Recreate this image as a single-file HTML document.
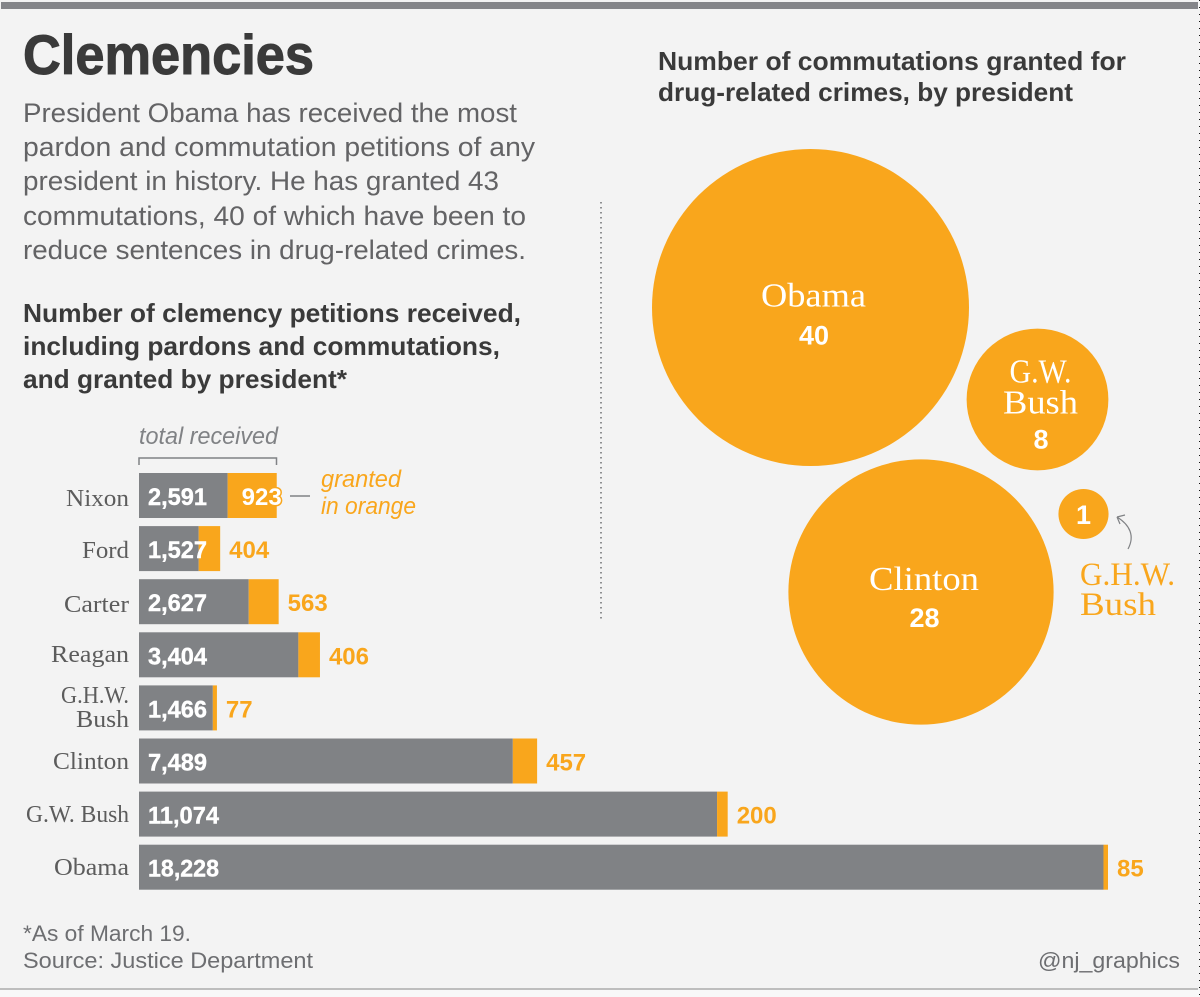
<!DOCTYPE html>
<html lang="en">
<head>
<meta charset="utf-8">
<title>Clemencies</title>
<style>
html,body{margin:0;padding:0;background:#f3f3f3;width:1200px;height:997px;overflow:hidden}
svg{display:block}
text{font-family:"Liberation Sans",sans-serif}
.body{font-size:27px;fill:#636365}
.sub{font-size:26px;font-weight:700;fill:#3a3a3a}
.cat{font-family:"Liberation Serif",serif;font-size:24px;fill:#5c5c5c}
.foot{font-size:22px;fill:#6d6e71}
.note{font-size:24px;font-style:italic}
.slab{font-family:"Liberation Serif",serif}
</style>
</head>
<body>
<svg id="chart" xmlns="http://www.w3.org/2000/svg" width="1200" height="997" viewBox="0 0 1200 997">
<rect x="0" y="0" width="1200" height="997" fill="#f3f3f3"/>
<rect x="0" y="990" width="1200" height="7" fill="#f8f8f8"/>
<rect x="1" y="2" width="1197" height="7" fill="#848589"/>
<rect x="0" y="988" width="1198" height="2" fill="#bdbdbd"/>
<line x1="1199.5" y1="0" x2="1199.5" y2="997" stroke="#111" stroke-width="1" stroke-dasharray="1 6"/>

<text x="23" y="74" font-size="56" font-weight="700" fill="#3a3a3a" stroke="#3a3a3a" stroke-width="1" textLength="291" lengthAdjust="spacingAndGlyphs">Clemencies</text>

<g class="body">
<text class="body" x="23" y="122" textLength="494" lengthAdjust="spacingAndGlyphs">President Obama has received the most</text>
<text class="body" x="23" y="156" textLength="512" lengthAdjust="spacingAndGlyphs">pardon and commutation petitions of any</text>
<text class="body" x="23" y="190" textLength="476" lengthAdjust="spacingAndGlyphs">president in history. He has granted 43</text>
<text class="body" x="23" y="225" textLength="503" lengthAdjust="spacingAndGlyphs">commutations, 40 of which have been to</text>
<text class="body" x="23" y="259" textLength="503" lengthAdjust="spacingAndGlyphs">reduce sentences in drug-related crimes.</text>
</g>

<g>
<text class="sub" x="23" y="322" textLength="498" lengthAdjust="spacingAndGlyphs">Number of clemency petitions received,</text>
<text class="sub" x="23" y="355" textLength="477" lengthAdjust="spacingAndGlyphs">including pardons and commutations,</text>
<text class="sub" x="23" y="388" textLength="324" lengthAdjust="spacingAndGlyphs">and granted by president*</text>
</g>

<g>
<text class="sub" x="658" y="70" textLength="468" lengthAdjust="spacingAndGlyphs">Number of commutations granted for</text>
<text class="sub" x="658" y="101" textLength="415" lengthAdjust="spacingAndGlyphs">drug-related crimes, by president</text>
</g>

<line x1="601" y1="202" x2="601" y2="622" stroke="#6d6e71" stroke-width="1.5" stroke-dasharray="1.5 3.5"/>

<text class="note" x="139" y="444" fill="#808285" textLength="139" lengthAdjust="spacingAndGlyphs">total received</text>
<path d="M139 465V458H276.500V465" fill="none" stroke="#808285" stroke-width="1.500"/>
<line x1="290" y1="496" x2="310" y2="496" stroke="#808285" stroke-width="1.500"/>
<text class="note" x="321" y="487" fill="#f9a61c" textLength="80" lengthAdjust="spacingAndGlyphs">granted</text>
<text class="note" x="321" y="514" fill="#f9a61c" textLength="95" lengthAdjust="spacingAndGlyphs">in orange</text>

<g id="bars"></g>
<g id="bubbles"></g>

<text class="slab" x="1080" y="585" font-size="33" fill="#f9a61c" textLength="95" lengthAdjust="spacingAndGlyphs">G.H.W.</text>
<text class="slab" x="1080" y="615" font-size="33" fill="#f9a61c" textLength="76" lengthAdjust="spacingAndGlyphs">Bush</text>
<path d="M1128 549C1135 536 1130 525 1117 517M1117 517L1125 515M1117 517L1120 524" fill="none" stroke="#808285" stroke-width="1.200"/>

<text class="foot" x="23" y="941" textLength="168" lengthAdjust="spacingAndGlyphs">*As of March 19.</text>
<text class="foot" x="23" y="968" textLength="290" lengthAdjust="spacingAndGlyphs">Source: Justice Department</text>
<text class="foot" x="1038" y="968" textLength="142" lengthAdjust="spacingAndGlyphs">@nj_graphics</text>
</svg>
<script>
const presidents = ['Nixon', 'Ford', 'Carter', 'Reagan', 'G.H.W. Bush', 'Clinton', 'G.W. Bush', 'Obama'];
const received = [2591, 1527, 2627, 3404, 1466, 7489, 11074, 18228];
const granted = [923, 404, 563, 406, 77, 457, 200, 85];

const bubbleNames = ['Obama', 'G.W. Bush', 'Clinton', 'G.H.W. Bush'];
const commutations = [40, 8, 28, 1];

const SVGNS = 'http://www.w3.org/2000/svg';
const barsGroup = document.getElementById('bars');
const bubblesGroup = document.getElementById('bubbles');

function xLen(v) { return v * 969 / 18228; }
function rowTop(i) { return 473 + i * 53.1; }
function radius(v) { return 158.5 * Math.sqrt(v / 40); }
function fmt(v) { return v.toLocaleString('en-US'); }

function mk(tag, parent, attrs, content) {
  const el = document.createElementNS(SVGNS, tag);
  for (const k in attrs) el.setAttribute(k, attrs[k]);
  if (content !== undefined) el.textContent = content;
  parent.appendChild(el);
  return el;
}

const catLayout = {
  'Nixon': [63, 506], 'Ford': [47, 558], 'Carter': [65, 612], 'Reagan': [78, 662],
  'G.H.W.': [68, 703], 'Bush': [53, 727], 'Clinton': [76, 769], 'G.W. Bush': [103, 822], 'Obama': [75, 875]
};

presidents.forEach(function (name, i) {
  const left = 139;
  const top = rowTop(i);
  const h = 45;
  const total = xLen(received[i]);
  const orange = xLen(granted[i]);
  const slug = name.toLowerCase().replace(/[^a-z]+/g, '-');

  const grayBar = mk('rect', barsGroup, { x: left, y: top, width: total - orange, height: h, fill: '#808285' });
  
  

  const orangeBar = mk('rect', barsGroup, { x: left + total - orange, y: top, width: orange, height: h, fill: '#f9a61c' });
  
  

  const baseline = top + 32;
  const digitCount = String(received[i]).length;
  const valueLabel = mk('text', barsGroup, { x: left + 9, y: baseline, 'font-size': 24, 'font-weight': 700, fill: '#fff', stroke: '#fff', 'stroke-width': 0.4, textLength: digitCount * 12 + 11, lengthAdjust: 'spacingAndGlyphs' }, fmt(received[i]));
  
  

  const inside = orange > 40;
  const grantedLabel = mk('text', barsGroup, {
    x: inside ? left + total - orange + 14 : left + total + 9,
    y: baseline,
    'font-size': 24,
    'font-weight': 700,
    fill: inside ? '#fff' : '#f9a61c'
  }, fmt(granted[i]));
  if (inside) {
    grantedLabel.setAttribute('stroke', '#f9a61c');
    grantedLabel.setAttribute('stroke-width', '3');
    grantedLabel.setAttribute('paint-order', 'stroke');
  }
  
  

  const words = name === 'G.H.W. Bush' ? ['G.H.W.', 'Bush'] : [name];
  words.forEach(function (word) {
    const layout = catLayout[word];
    const cat = mk('text', barsGroup, { x: 129 - layout[0], y: layout[1], class: 'cat', textLength: layout[0], lengthAdjust: 'spacingAndGlyphs' }, word);
    
    
  });
});

const bubbleCentres = [[810.5, 307.5], [1037.5, 399.5], [921, 592], [1083.5, 514]];
const bubbleLabelWidths = { 'Obama': 105, 'Clinton': 110, 'G.W.': 62, 'Bush': 75 };

bubbleNames.forEach(function (name, i) {
  const cx = bubbleCentres[i][0];
  const cy = bubbleCentres[i][1];
  const slug = name.toLowerCase().replace(/[^a-z]+/g, '-');

  const circle = mk('circle', bubblesGroup, { cx: cx, cy: cy, r: radius(commutations[i]), fill: '#f9a61c' });
  
  

  if (name === 'G.H.W. Bush') {
    const small = mk('text', bubblesGroup, { x: cx, y: cy + 10, 'text-anchor': 'middle', 'font-size': 27, 'font-weight': 700, fill: '#fff' }, commutations[i]);
    
    
    return;
  }

  const lines = name === 'G.W. Bush' ? ['G.W.', 'Bush'] : [name];
  const firstY = lines.length === 2 ? cy - 17 : (name === 'Clinton' ? cy - 2 : cy - 1);
  lines.forEach(function (line, j) {
    const w = bubbleLabelWidths[line];
    const label = mk('text', bubblesGroup, { x: cx + 3 - w / 2, y: firstY + j * 31, class: 'slab', 'font-size': 34, fill: '#fff', textLength: w, lengthAdjust: 'spacingAndGlyphs' }, line);
    
    
  });
  const valueY = lines.length === 2 ? cy + 49 : (name === 'Clinton' ? cy + 35 : cy + 37);
  const value = mk('text', bubblesGroup, { x: cx + 3.5, y: valueY, 'text-anchor': 'middle', 'font-size': 27, 'font-weight': 700, fill: '#fff' }, commutations[i]);
  
  
});
</script>
</body>
</html>
